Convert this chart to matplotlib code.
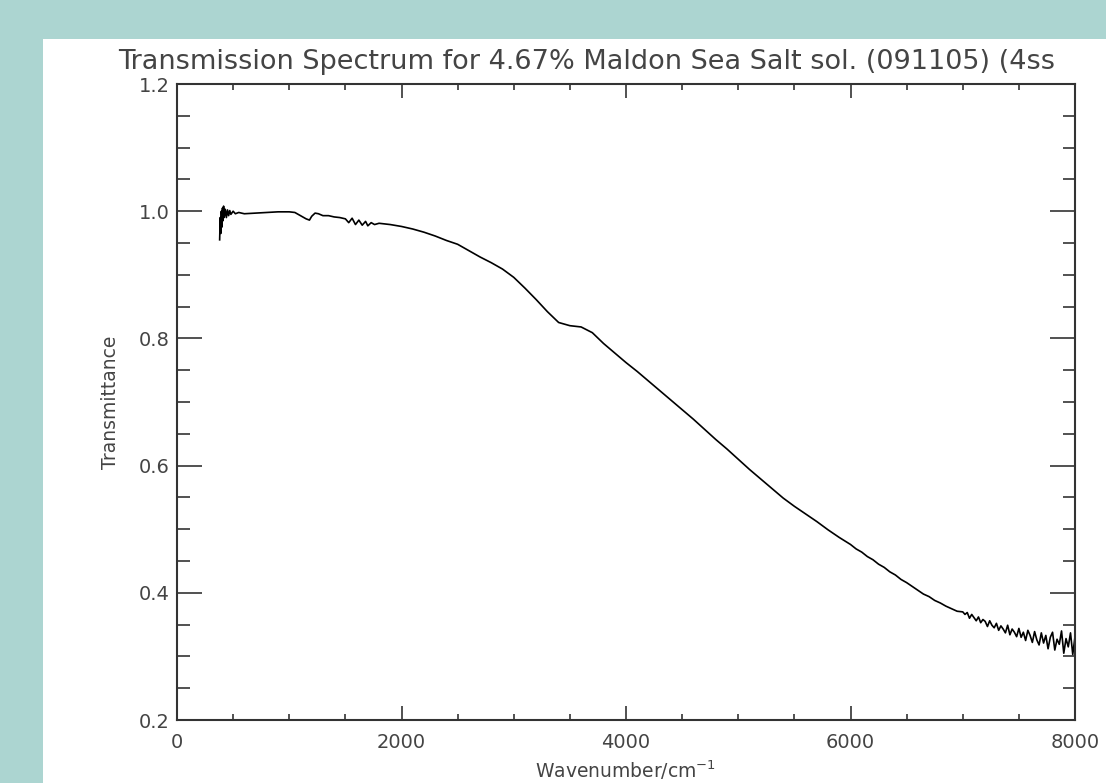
import matplotlib
matplotlib.use("Agg")
import matplotlib.pyplot as plt
from matplotlib.patches import Rectangle
from matplotlib.ticker import MultipleLocator

# wavenumber (cm^-1) and transmittance
wavenumber = [
    380, 385, 390, 395, 400, 405, 410, 415, 420, 430, 440, 450, 460, 470, 480,
    500, 520, 550, 600, 700, 800, 900, 1000, 1050, 1100, 1150, 1180, 1200, 1230,
    1260, 1300, 1350, 1400, 1450, 1500, 1530, 1560, 1590, 1620, 1650, 1680, 1700,
    1730, 1760, 1800, 1900, 2000, 2100, 2200, 2300, 2400, 2500, 2600, 2700, 2800,
    2900, 3000, 3100, 3200, 3300, 3400, 3500, 3600, 3700, 3800, 3900, 4000, 4100,
    4200, 4300, 4400, 4500, 4600, 4700, 4800, 4900, 5000, 5100, 5200, 5300, 5400,
    5500, 5600, 5700, 5800, 5900,
    6000, 6050, 6100, 6150, 6200, 6250, 6300, 6350, 6400, 6450, 6500, 6550, 6600,
    6650, 6700, 6750, 6800, 6850, 6900, 6950,
    7000, 7020, 7040, 7060, 7080, 7100, 7120, 7140, 7160, 7180, 7200, 7220, 7240,
    7260, 7280, 7300, 7320, 7340, 7360, 7380, 7400, 7420, 7440, 7460, 7480, 7500,
    7520, 7540, 7560, 7580, 7600, 7620, 7640, 7660, 7680, 7700, 7720, 7740, 7760,
    7780, 7800, 7820, 7840, 7860, 7880, 7900, 7920, 7940, 7960, 7980, 8000,
]
transmittance = [
    0.955, 0.990, 0.965, 1.000, 0.975, 1.005, 0.985, 1.008, 0.990, 1.003, 0.990,
    1.002, 0.993, 1.001, 0.995, 1.000, 0.996, 0.998, 0.996, 0.997, 0.998, 0.999,
    0.999, 0.998, 0.993, 0.988, 0.986, 0.992, 0.997, 0.996, 0.993, 0.993, 0.991,
    0.990, 0.988, 0.982, 0.989, 0.979, 0.986, 0.978, 0.984, 0.977, 0.982, 0.979,
    0.981, 0.979, 0.976, 0.972, 0.967, 0.961, 0.954, 0.948, 0.938, 0.928, 0.919,
    0.909, 0.896, 0.879, 0.861, 0.842, 0.825, 0.820, 0.818, 0.809, 0.792, 0.777,
    0.762, 0.748, 0.733, 0.718, 0.703, 0.688, 0.673, 0.657, 0.641, 0.626, 0.610,
    0.594, 0.579, 0.564, 0.549, 0.536, 0.524, 0.512, 0.499, 0.487,
    0.476, 0.469, 0.464, 0.457, 0.452, 0.445, 0.440, 0.433, 0.428, 0.421, 0.416,
    0.410, 0.404, 0.398, 0.394, 0.388, 0.384, 0.379, 0.375, 0.371,
    0.370, 0.366, 0.369, 0.360, 0.366, 0.361, 0.356, 0.362, 0.353, 0.358, 0.355,
    0.347, 0.356, 0.349, 0.345, 0.352, 0.341, 0.348, 0.343, 0.337, 0.349, 0.334,
    0.343, 0.338, 0.331, 0.344, 0.330, 0.338, 0.325, 0.341, 0.333, 0.322, 0.339,
    0.326, 0.318, 0.337, 0.321, 0.333, 0.312, 0.330, 0.338, 0.310, 0.327, 0.319,
    0.340, 0.305, 0.328, 0.315, 0.337, 0.303, 0.331,
]

title = "Transmission Spectrum for 4.67% Maldon Sea Salt sol. (091105) (4ss"
x_ticks = [0, 2000, 4000, 6000, 8000]
y_ticks = [0.2, 0.4, 0.6, 0.8, 1.0, 1.2]

txt = "#444444"

fig = plt.figure(figsize=(11.06, 7.83), dpi=100)
fig.patch.set_facecolor("#acd5d1")
# white panel behind the plot
fig.patches.append(Rectangle((43 / 1106, 0), 1, 1 - 39 / 783, transform=fig.transFigure,
                             facecolor="white", edgecolor="none", zorder=-10))

ax = fig.add_axes([177 / 1106, 1 - 720 / 783, 898 / 1106, 636 / 783])
ax.set_facecolor("none")
ax.plot(wavenumber, transmittance, color="black", lw=1.2)

ax.set_xlim(0, 8000)
ax.set_ylim(0.2, 1.2)
ax.set_xticks(x_ticks)
ax.set_yticks(y_ticks)
ax.set_yticklabels(["%.1f" % v for v in y_ticks])
ax.xaxis.set_minor_locator(MultipleLocator(500))
ax.yaxis.set_minor_locator(MultipleLocator(0.05))

ax.tick_params(axis="both", which="both", direction="in", top=True, right=True,
               colors="#333333", labelcolor=txt, labelsize=14, width=1.2)
ax.tick_params(axis="x", which="major", length=10, pad=9)
ax.tick_params(axis="x", which="minor", length=4)
ax.tick_params(axis="y", which="major", length=18, pad=5)
ax.tick_params(axis="y", which="minor", length=9)
for s in ax.spines.values():
    s.set_color("#333333")
    s.set_linewidth(1.5)

ax.set_xlabel("Wavenumber/cm$^{-1}$", fontsize=13.5, color=txt, labelpad=5)
ax.set_ylabel("Transmittance", fontsize=13.5, color=txt, labelpad=14)
fig.text(118 / 1106, 1 - 69 / 783, title, fontsize=19.5, color=txt, ha="left", va="baseline")

fig.savefig("out.png", dpi=100, facecolor=fig.get_facecolor())
